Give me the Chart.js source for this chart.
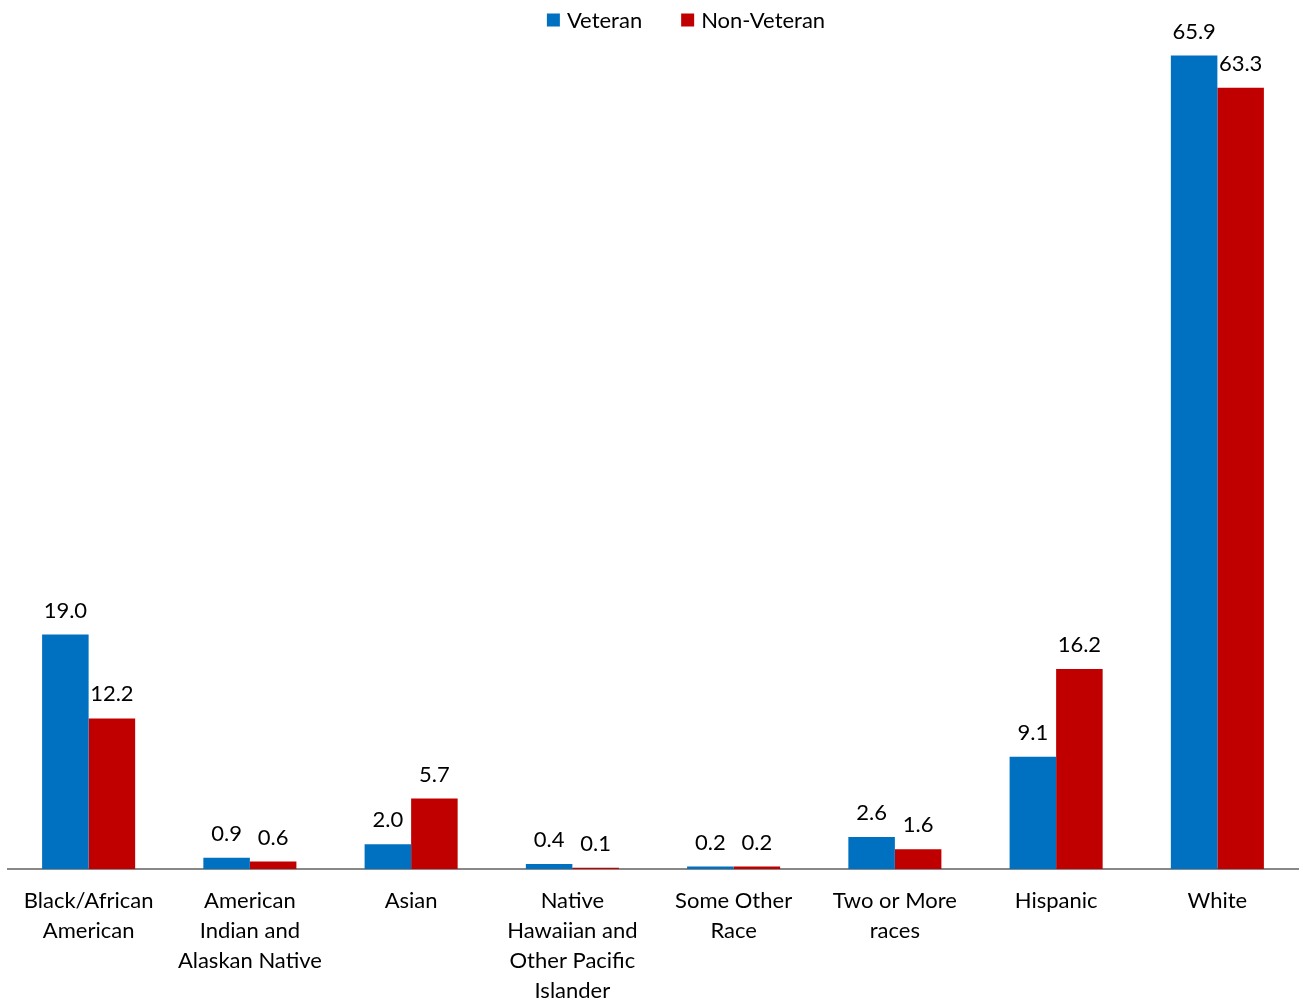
<!DOCTYPE html>
<html>
<head>
<meta charset="utf-8">
<script src="https://cdn.jsdelivr.net/npm/chart.js@4"></script>
<style>
  html, body { margin: 0; padding: 0; background: #fff; }
  #wrap { width: 1303px; height: 1000px; }
</style>
</head>
<body>
<div id="wrap"><canvas id="chart"></canvas></div>
<script>
const categories = [
  ['Black/African', 'American'],
  ['American', 'Indian and', 'Alaskan Native'],
  ['Asian'],
  ['Native', 'Hawaiian and', 'Other Pacific', 'Islander'],
  ['Some Other', 'Race'],
  ['Two or More', 'races'],
  ['Hispanic'],
  ['White'],
];
const veteran = [19.0, 0.9, 2.0, 0.4, 0.2, 2.6, 9.1, 65.9];
const nonVeteran = [12.2, 0.6, 5.7, 0.1, 0.2, 1.6, 16.2, 63.3];

const FONT = 'Lato, "Open Sans", sans-serif';

// value labels above each bar
const barValues = {
  id: 'barValues',
  afterDatasetsDraw(chart) {
    const ctx = chart.ctx;
    ctx.save();
    ctx.font = '22px ' + FONT;
    ctx.fillStyle = '#000';
    ctx.textAlign = 'center';
    ctx.textBaseline = 'middle';
    chart.data.datasets.forEach((ds, i) => {
      chart.getDatasetMeta(i).data.forEach((bar, j) => {
        ctx.fillText(ds.data[j].toFixed(1), bar.x, bar.y - 24);
      });
    });
    ctx.restore();
  }
};

// legend row at the top, slightly right of centre
const topLegend = {
  id: 'topLegend',
  afterDraw(chart) {
    const ctx = chart.ctx;
    const box = 13, gap = 7, spacing = 39, cy = 20, centre = 686;
    ctx.save();
    ctx.font = '22px ' + FONT;
    ctx.textBaseline = 'middle';
    ctx.textAlign = 'left';
    const items = chart.data.datasets.map(ds => ({
      text: ds.label, color: ds.backgroundColor, w: ctx.measureText(ds.label).width,
    }));
    const total = items.reduce((s, it) => s + box + gap + it.w, 0) + spacing * (items.length - 1);
    let x = centre - total / 2;
    items.forEach(it => {
      ctx.fillStyle = it.color;
      ctx.fillRect(x, cy - box / 2, box, box);
      x += box + gap;
      ctx.fillStyle = '#000';
      ctx.fillText(it.text, x, cy + 1);
      x += it.w + spacing;
    });
    ctx.restore();
  }
};

new Chart(document.getElementById('chart'), {
  type: 'bar',
  data: {
    labels: categories,
    datasets: [
      { label: 'Veteran', data: veteran, backgroundColor: '#0070C0' },
      { label: 'Non-Veteran', data: nonVeteran, backgroundColor: '#C00000' },
    ],
  },
  options: {
    responsive: true,
    maintainAspectRatio: false,
    animation: false,
    categoryPercentage: 0.577,
    barPercentage: 1,
    layout: { padding: { left: 8, right: 5, top: 42, bottom: -23 } },
    plugins: {
      legend: { display: false },
      tooltip: { enabled: false },
    },
    scales: {
      x: {
        grid: { display: false, drawTicks: false },
        border: { color: '#888', width: 2 },
        ticks: {
          color: '#000',
          font: { family: FONT, size: 22, lineHeight: 1.364 },
          autoSkip: false,
          maxRotation: 0,
          padding: 17,
        },
      },
      y: {
        display: false,
        min: 0,
        max: 67,
      },
    },
  },
  plugins: [barValues, topLegend],
});
</script>
</body>
</html>
